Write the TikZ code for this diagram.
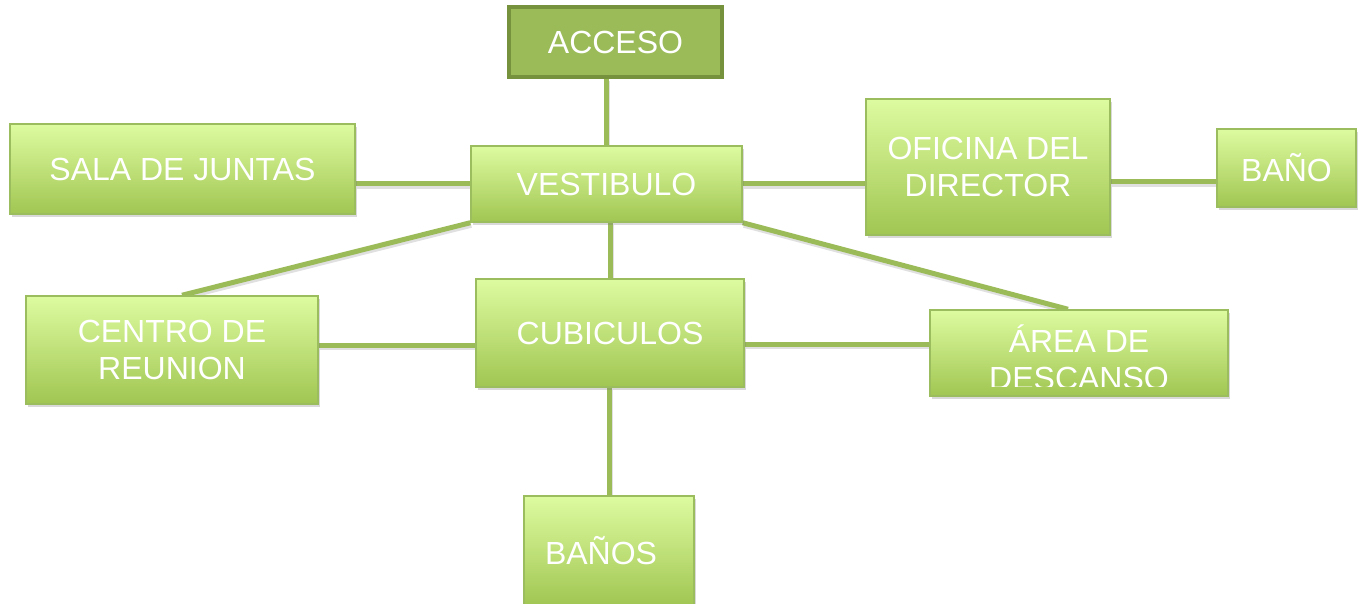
\documentclass[tikz,border=0pt]{standalone}
\usepackage{fontspec}
\setmainfont{Liberation Sans}
\usetikzlibrary{shadows, backgrounds}
\definecolor{roomTop}{HTML}{DDFBA0}
\definecolor{roomBottom}{HTML}{A1C652}
\definecolor{roomBorder}{HTML}{9CBD5E}
\definecolor{linkcol}{HTML}{9BBB59}
\definecolor{accessFill}{HTML}{9BBB59}
\definecolor{accessBorder}{HTML}{76923C}

\begin{document}
\begin{tikzpicture}[
  x=1pt, y=-1pt,
  box/.style={inner sep=0pt, align=center, text=white, font=\fontsize{32}{37}\selectfont},
  room/.style={box, draw=roomBorder, line width=1.5pt, top color=roomTop, bottom color=roomBottom,
    drop shadow={shadow xshift=2pt, shadow yshift=-3pt, opacity=0.3}},
  entry/.style={box, draw=accessBorder, fill=accessFill, line width=4pt},
  link/.style={draw=linkcol, line width=5pt,
    preaction={draw=black, opacity=0.12, line width=5pt, transform canvas={xshift=1pt, yshift=-2.5pt}}}
]
\useasboundingbox (0,0) rectangle (1364,604);

% Rooms
\node[entry, minimum width=213, minimum height=70] (acceso) at (615.5,42) {ACCESO};
\node[room, minimum width=345, minimum height=90] (sala) at (182.5,169) {SALA DE JUNTAS};
\node[room, minimum width=271, minimum height=76] (vest) at (606.5,184) {VESTIBULO};
\node[room, minimum width=244, minimum height=136] (ofic) at (988,167) {OFICINA DEL\\DIRECTOR};
\node[room, minimum width=139, minimum height=78] (bano) at (1286.5,168) {BAÑO};
\node[room, minimum width=292, minimum height=108] (centro) at (172,350) {CENTRO DE\\REUNION};
\node[room, minimum width=268, minimum height=108] (cubic) at (610,333) {CUBICULOS};
\node[room, minimum width=298, minimum height=86] (area) at (1079,353) {};
\begin{scope}
  \clip (area.north west) rectangle ([yshift=10pt]area.south east);
  \node[box] (areatxt) at (1079,357) {ÁREA DE\\DESCANSO};
\end{scope}
\node[room, minimum width=170, minimum height=110, inner xsep=21pt, text width=128pt, align=left] (banos) at (609,551) {BAÑOS};

% Links
\begin{pgfonlayer}{background}
  \draw[link] (vest.north) -- (vest.north |- acceso.south);
  \draw[link] (vest.west) -- (vest.west -| sala.east);
  \draw[link] (vest.east) -- (vest.east -| ofic.west);
  \draw[link] ([yshift=-14pt]bano.west) -- ([yshift=-14pt]bano.west -| ofic.east);
  \draw[link] (cubic.north) -- (cubic.north |- vest.south);
  \draw[link] (vest.south west) -- ([xshift=10pt]centro.north);
  \draw[link] (vest.south east) -- ([xshift=-11pt]area.north);
  \draw[link] ([yshift=5pt]centro.east) -- ([yshift=5pt]centro.east -| cubic.west);
  \draw[link] ([yshift=9pt]area.west) -- ([yshift=9pt]area.west -| cubic.east);
  \draw[link] (banos.north) -- (banos.north |- cubic.south);
\end{pgfonlayer}
\end{tikzpicture}
\end{document}
